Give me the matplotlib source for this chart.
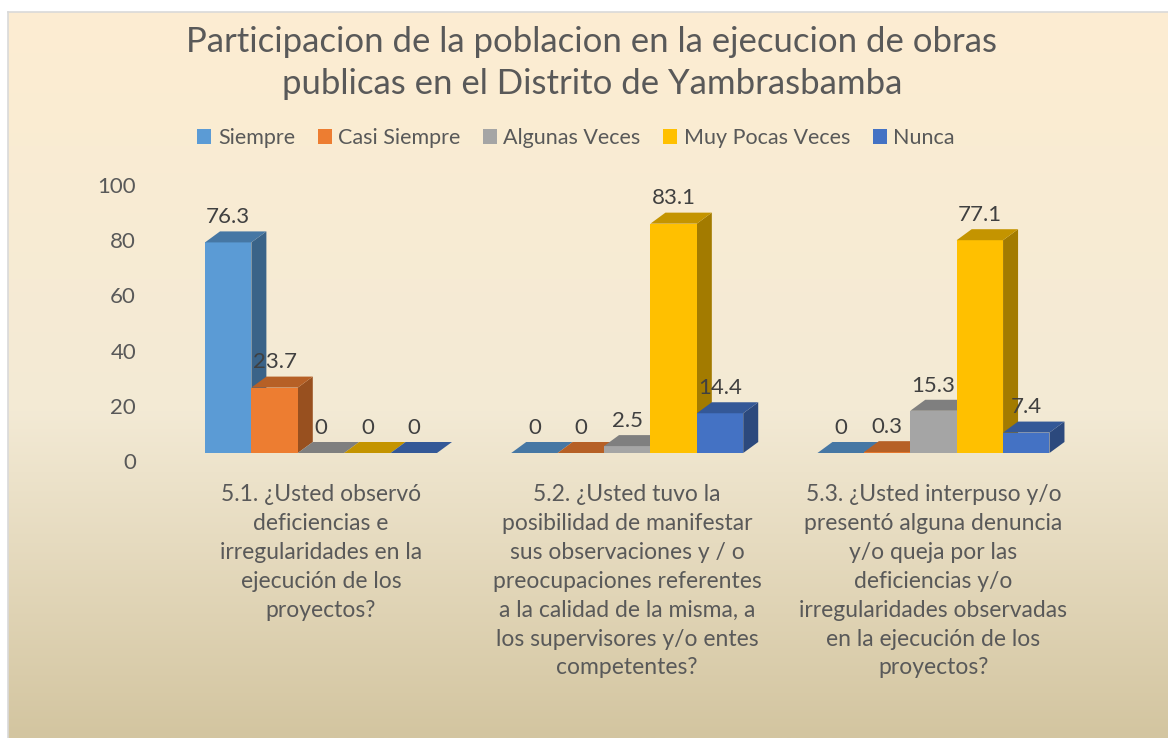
import numpy as np
import matplotlib.pyplot as plt
import matplotlib.transforms as mtrans
from matplotlib.patches import Polygon, Patch
from matplotlib.colors import LinearSegmentedColormap, to_rgb

plt.rcParams['font.family'] = ['Lato', 'DejaVu Sans']

'~~~~~~~~~~ DATA ~~~~~~~~~~'
series = ['Siempre', 'Casi Siempre', 'Algunas Veces', 'Muy Pocas Veces', 'Nunca']
colors = ['#5B9BD5', '#ED7D31', '#A5A5A5', '#FFC000', '#4472C4']

questions = [
    '5.1. ¿Usted observó\ndeficiencias e\nirregularidades en la\nejecución de los\nproyectos?',
    '5.2. ¿Usted tuvo la\nposibilidad de manifestar\nsus observaciones y / o\npreocupaciones referentes\n'
    'a la calidad de la misma, a\nlos supervisores y/o entes\ncompetentes?',
    '5.3. ¿Usted interpuso y/o\npresentó alguna denuncia\ny/o queja por las\ndeficiencias y/o\n'
    'irregularidades observadas\nen la ejecución de los\nproyectos?',
]

siempre = [76.3, 0, 0]
casi_siempre = [23.7, 0, 0.3]
algunas_veces = [0, 2.5, 15.3]
muy_pocas_veces = [0, 83.1, 77.1]
nunca = [0, 14.4, 7.4]
values = [siempre, casi_siempre, algunas_veces, muy_pocas_veces, nunca]

yticks = [0, 20, 40, 60, 80, 100]

title = 'Participacion de la poblacion en la ejecucion de obras\npublicas en el Distrito de Yambrasbamba'

'~~~~~~~~~~ FIGURE ~~~~~~~~~~'
W, H = 1168, 738
fig = plt.figure(figsize=(W / 100, H / 100), dpi=100)
fig.patch.set_facecolor('white')

# gradient chart area
bg = fig.add_axes([8 / W, 0, 1 - 8 / W, 1 - 12 / H])
cmap = LinearSegmentedColormap.from_list('bg', [(0, '#FDEDD2'), (0.55, '#F3EAD5'), (1, '#D3C5A0')])
bg.imshow(np.linspace(0, 1, 256)[:, None], aspect='auto', cmap=cmap, extent=[0, 1, 0, 1], origin='upper')
bg.set_xlim(0, 1)
bg.set_ylim(0, 1)
bg.set_xticks([])
bg.set_yticks([])
for s in ['right', 'bottom']:
    bg.spines[s].set_visible(False)
for s in ['top', 'left']:
    bg.spines[s].set_color('#D9D9D9')
    bg.spines[s].set_linewidth(1.2)

'~~~~~~~~~~ 3D BARS ~~~~~~~~~~'
px_bar = 46.4
ax = fig.add_axes([150 / W, (H - 453) / H, 950 / W, 276 / H])
ax.set_xlim(0, 950 / px_bar)
ax.set_ylim(0, 100)
ax.patch.set_alpha(0)
for s in ax.spines.values():
    s.set_visible(False)

bw = 1.0
dx = 15 / px_bar
dy = 11 / 2.76
group_gap = 1.6
starts = 1.185 + np.arange(len(questions)) * (len(series) * bw + group_gap)


def shade(c, f):
    return tuple(np.array(to_rgb(c)) * f)


z = 2
for g, x_start in enumerate(starts):
    for i, (vals, c) in enumerate(zip(values, colors)):
        v = vals[g]
        x0 = x_start + i * bw
        side = Polygon([(x0 + bw, 0), (x0 + bw + dx, dy), (x0 + bw + dx, v + dy), (x0 + bw, v)],
                       closed=True, facecolor=shade(c, 0.64), edgecolor='none', zorder=z)
        ax.add_patch(side)
        ax.bar(x0, v, width=bw, align='edge', color=c, linewidth=0, zorder=z + 1)
        top = Polygon([(x0, v), (x0 + bw, v), (x0 + bw + dx, v + dy), (x0 + dx, v + dy)],
                      closed=True, facecolor=shade(c, 0.77), edgecolor='none', zorder=z + 2)
        ax.add_patch(top)
        ax.annotate('{:g}'.format(v), xy=(x0 + bw / 2, v + dy), xytext=(0, 3), textcoords='offset points',
                    ha='center', va='bottom', fontsize=16, color='#404040', zorder=50)
        z += 3

ax.set_yticks(yticks)
ax.tick_params(axis='y', length=0, pad=10, labelsize=16, labelcolor='#595959')
offset = mtrans.ScaledTranslation(0, -8 / 100, fig.dpi_scale_trans)
for lab in ax.get_yticklabels():
    lab.set_transform(lab.get_transform() + offset)

ax.set_xticks(starts + len(series) * bw / 2)
ax.set_xticklabels(questions, linespacing=1.47)
ax.tick_params(axis='x', length=0, pad=22, labelsize=16.5, labelcolor='#595959')

'~~~~~~~~~~ TITLE AND LEGEND ~~~~~~~~~~'
fig.text(592 / W, 1 - 63 / H, title, ha='center', va='center', fontsize=25, color='#595959', linespacing=1.4)

handles = [Patch(facecolor=c, edgecolor='none') for c in colors]
fig.legend(handles, series, loc='center', bbox_to_anchor=(576 / W, 1 - 138 / H), ncol=5, frameon=False,
           fontsize=15.5, handlelength=0.65, handleheight=0.65, handletextpad=0.3, columnspacing=1.05,
           labelcolor='#595959')

plt.savefig('out.png', dpi=100)
